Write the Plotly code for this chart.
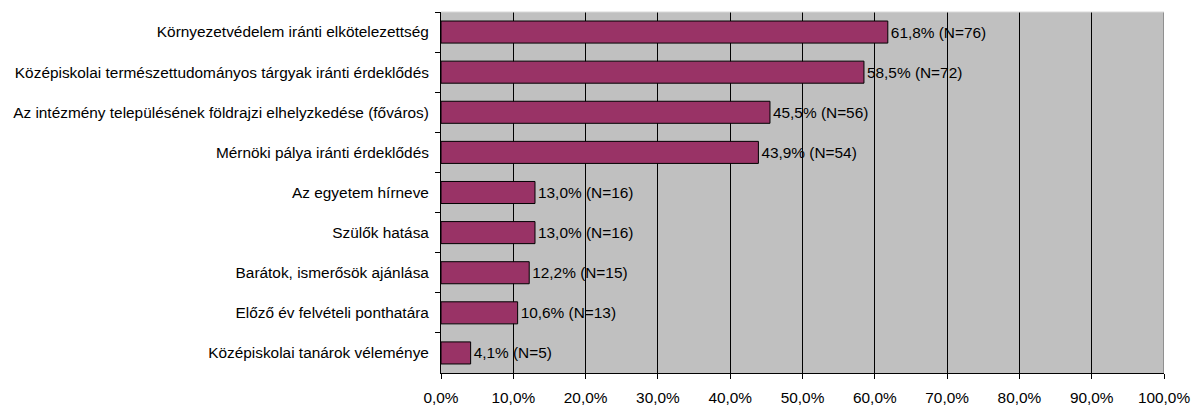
import plotly.graph_objects as go

# Motivations for choosing the programme (share of respondents, %)
categories = [
    "Környezetvédelem iránti elkötelezettség",
    "Középiskolai természettudományos tárgyak iránti érdeklődés",
    "Az intézmény településének földrajzi elhelyzkedése (főváros)",
    "Mérnöki pálya iránti érdeklődés",
    "Az egyetem hírneve",
    "Szülők hatása",
    "Barátok, ismerősök ajánlása",
    "Előző év felvételi ponthatára",
    "Középiskolai tanárok véleménye",
]
percent = [61.8, 58.5, 45.5, 43.9, 13.0, 13.0, 12.2, 10.6, 4.1]
counts = [76, 72, 56, 54, 16, 16, 15, 13, 5]
x_ticks = [0, 10, 20, 30, 40, 50, 60, 70, 80, 90, 100]
x_tick_labels = ["0,0%", "10,0%", "20,0%", "30,0%", "40,0%", "50,0%",
                 "60,0%", "70,0%", "80,0%", "90,0%", "100,0%"]

labels = [f"{p:.1f}".replace(".", ",") + f"% (N={n})" for p, n in zip(percent, counts)]

FONT = "Liberation Sans, Arial, sans-serif"
FS = 15.4

fig = go.Figure(
    go.Bar(
        y=categories,
        x=percent,
        orientation="h",
        marker=dict(color="#993366", line=dict(color="black", width=1)),
        text=labels,
        textposition="outside",
        textfont=dict(family=FONT, size=FS, color="black"),
        cliponaxis=False,
        width=0.55,
    )
)

fig.update_layout(
    width=1191,
    height=407,
    margin=dict(l=441, r=27, t=12, b=34, autoexpand=False),
    paper_bgcolor="white",
    plot_bgcolor="#C0C0C0",
    showlegend=False,
    font=dict(family=FONT, size=FS, color="black"),
    xaxis=dict(
        range=[0, 100],
        tickvals=x_ticks,
        ticktext=x_tick_labels,
        automargin=False,
        showgrid=True,
        gridcolor="black",
        gridwidth=1,
        zeroline=False,
        showline=True,
        linecolor="black",
        linewidth=1,
        ticks="outside",
        ticklen=5,
        tickcolor="black",
        ticklabelstandoff=6,
    ),
    yaxis=dict(
        autorange="reversed",
        automargin=False,
        showgrid=False,
        showline=True,
        linecolor="black",
        linewidth=1,
        ticks="outside",
        tickson="boundaries",
        ticklen=5,
        tickcolor="black",
        ticklabelstandoff=8,
    ),
    shapes=[
        dict(type="line", xref="x", yref="paper", x0=100, x1=100, y0=0, y1=1,
             line=dict(color="#808080", width=1.5), layer="above"),
        dict(type="line", xref="paper", yref="paper", x0=0, x1=1, y0=1, y1=1,
             line=dict(color="#D8D8D8", width=1), layer="above"),
    ],
)

fig.write_html("out.html")
